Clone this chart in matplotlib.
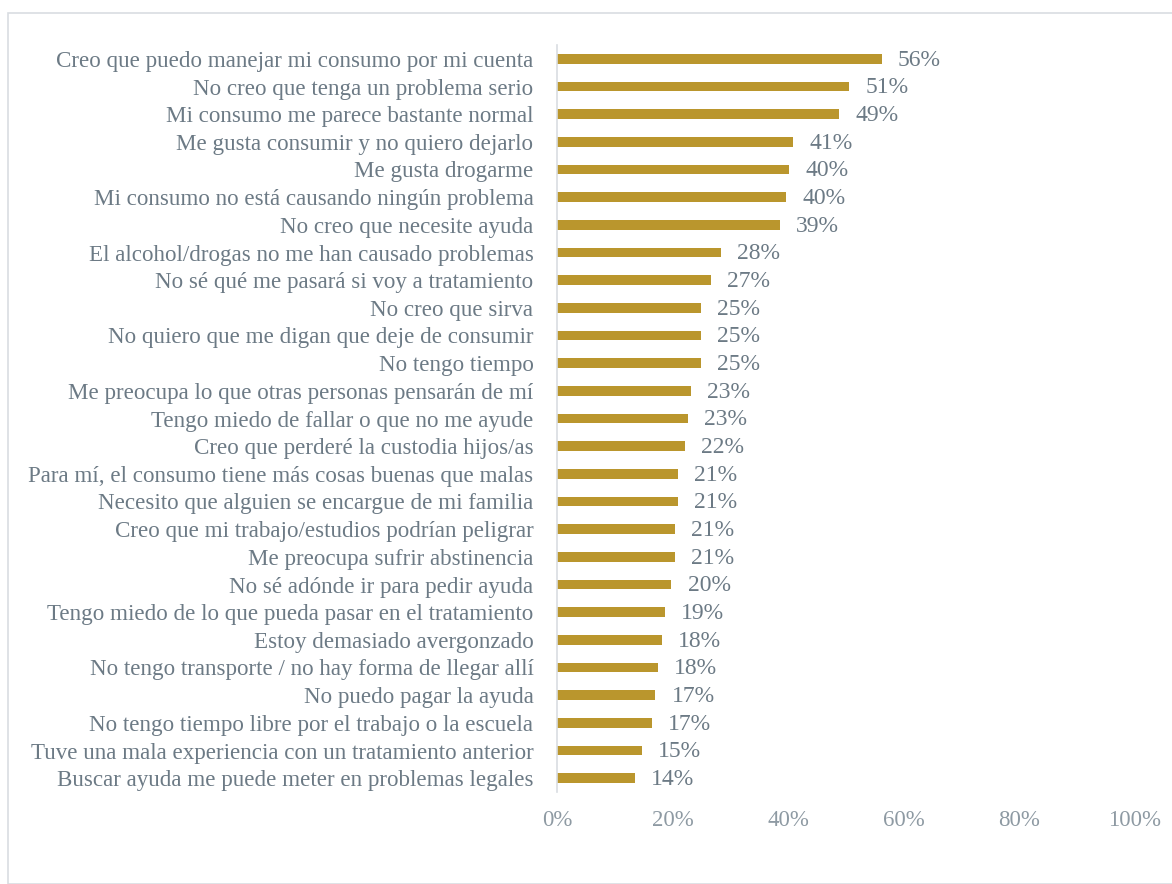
import matplotlib.pyplot as plt
from matplotlib.patches import Rectangle

labels = [
    "Creo que puedo manejar mi consumo por mi cuenta",
    "No creo que tenga un problema serio",
    "Mi consumo me parece bastante normal",
    "Me gusta consumir y no quiero dejarlo",
    "Me gusta drogarme",
    "Mi consumo no está causando ningún problema",
    "No creo que necesite ayuda",
    "El alcohol/drogas no me han causado problemas",
    "No sé qué me pasará si voy a tratamiento",
    "No creo que sirva",
    "No quiero que me digan que deje de consumir",
    "No tengo tiempo",
    "Me preocupa lo que otras personas pensarán de mí",
    "Tengo miedo de fallar o que no me ayude",
    "Creo que perderé la custodia hijos/as",
    "Para mí, el consumo tiene más cosas buenas que malas",
    "Necesito que alguien se encargue de mi familia",
    "Creo que mi trabajo/estudios podrían peligrar",
    "Me preocupa sufrir abstinencia",
    "No sé adónde ir para pedir ayuda",
    "Tengo miedo de lo que pueda pasar en el tratamiento",
    "Estoy demasiado avergonzado",
    "No tengo transporte / no hay forma de llegar allí",
    "No puedo pagar la ayuda",
    "No tengo tiempo libre por el trabajo o la escuela",
    "Tuve una mala experiencia con un tratamiento anterior",
    "Buscar ayuda me puede meter en problemas legales",
]
values = [56.2, 50.5, 48.8, 40.8, 40.2, 39.7, 38.6, 28.3, 26.6, 24.9, 24.9, 24.9,
          23.2, 22.7, 22.1, 20.9, 20.9, 20.4, 20.4, 19.8, 18.7, 18.1, 17.5, 17.0,
          16.4, 14.7, 13.5]
shown = ["56%", "51%", "49%", "41%", "40%", "40%", "39%", "28%", "27%", "25%",
         "25%", "25%", "23%", "23%", "22%", "21%", "21%", "21%", "21%", "20%",
         "19%", "18%", "18%", "17%", "17%", "15%", "14%"]
ticks = [0, 20, 40, 60, 80, 100]

gold = "#BA962D"
gray = "#6C7A85"
font = "Liberation Serif"

fig = plt.figure(figsize=(11.72, 8.84), dpi=100)
fig.patches.append(Rectangle((8 / 1172, 0), 1.0, 1 - 13 / 884, transform=fig.transFigure,
                             fill=False, edgecolor="#D9DDE1", linewidth=1.2))
ax = fig.add_axes([557 / 1172, 1 - 792 / 884, 578 / 1172, (792 - 45) / 884])

y = list(range(len(labels)))
ax.barh(y, values, height=0.36, color=gold)
ax.set_ylim(len(labels) - 0.5, -0.5)
ax.set_xlim(0, 100)

for i, (v, s) in enumerate(zip(values, shown)):
    ax.text(v + 2.8, i + 0.05, s, va="center", ha="left", fontsize=17, color=gray, family=font)

ax.set_yticks(y)
ax.set_yticklabels(labels, fontsize=16.6, color=gray, family=font)
ax.set_xticks(ticks)
ax.set_xticklabels([f"{t}%" for t in ticks], fontsize=16.5, color="#8E9AA3", family=font)
ax.tick_params(axis="both", length=0)
ax.tick_params(axis="y", pad=17)
ax.tick_params(axis="x", pad=13)

for side in ["top", "right", "bottom"]:
    ax.spines[side].set_visible(False)
ax.spines["left"].set_color("#D9DDE1")
ax.spines["left"].set_linewidth(1.2)

fig.savefig("out.png", dpi=100)
